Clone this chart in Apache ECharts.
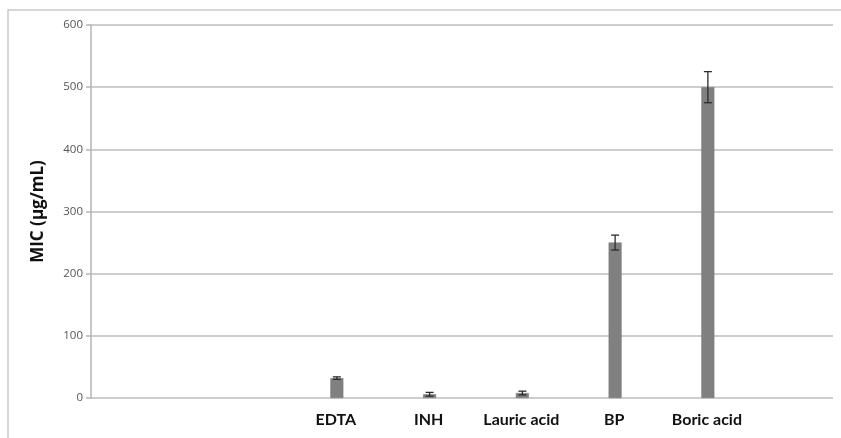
<!DOCTYPE html>
<html>
<head>
<meta charset="utf-8">
<script src="https://cdn.jsdelivr.net/npm/echarts@6/dist/echarts.min.js"></script>
<style>
html,body{margin:0;padding:0;background:#fff;}
#chart{width:841px;height:438px;}
</style>
</head>
<body>
<div id="chart"></div>
<script>
// Data
var categories = ['', '', 'EDTA', 'INH', 'Lauric acid', 'BP', 'Boric acid', ''];
var micValues = [null, null, 32, 6, 8, 250, 500, null];
var micErrors = [null, null, 2, 3, 3, 12, 25, null];
var yTicks = [0, 100, 200, 300, 400, 500, 600];

var BAR_OFFSET = 14;

var chart = echarts.init(document.getElementById('chart'), null, {renderer: 'canvas'});

var errData = categories.map(function (c, i) {
  return micValues[i] == null ? null : [i, micValues[i], micErrors[i]];
}).filter(function (d) { return d; });

var option = {
  animation: false,
  backgroundColor: '#ffffff',
  graphic: [{
    type: 'rect',
    shape: {x: 8, y: 10, width: 900, height: 500},
    style: {fill: 'none', stroke: '#c9c9c9', lineWidth: 1.5},
    silent: true
  }],
  grid: {left: 91, right: 8, top: 25, bottom: 40, containLabel: false},
  xAxis: {
    type: 'category',
    data: categories,
    boundaryGap: true,
    axisLine: {show: false},
    axisTick: {show: false},
    axisLabel: {
      interval: 0,
      margin: 14,
      color: '#111',
      fontFamily: 'Lato',
      fontWeight: 'bold',
      fontSize: 16,
      padding: [0, 0, 0, 26]
    }
  },
  yAxis: {
    type: 'value',
    min: yTicks[0],
    max: yTicks[yTicks.length - 1],
    interval: 100,
    name: 'MIC (µg/mL)',
    nameLocation: 'middle',
    nameGap: 44,
    nameTextStyle: {fontFamily: 'Open Sans', fontWeight: 'bold', fontSize: 17, color: '#111'},
    axisLine: {show: true, lineStyle: {color: '#b5b5b5', width: 1.5}},
    axisTick: {show: true, length: 5, lineStyle: {color: '#b5b5b5', width: 1.5}},
    axisLabel: {color: '#555', fontFamily: 'Open Sans', fontSize: 11.5, margin: 8},
    splitLine: {show: true, lineStyle: {color: '#bdbdbd', width: 1.5}}
  },
  series: [
    {
      type: 'bar',
      name: 'dummy',
      data: categories.map(function () { return null; }),
      barWidth: 13,
      barGap: '115%'
    },
    {
      type: 'bar',
      name: 'MIC',
      data: micValues,
      barWidth: 13,
      barGap: '115%',
      itemStyle: {color: '#808080', borderColor: '#747474', borderWidth: 0.5}
    },
    {
      type: 'custom',
      name: 'err',
      data: errData,
      z: 10,
      renderItem: function (params, api) {
        var cat = api.value(0), v = api.value(1), e = api.value(2);
        var hi = api.coord([cat, v + e]);
        var lo = api.coord([cat, v - e]);
        var x = hi[0] + BAR_OFFSET;
        var cap = 4;
        var st = {stroke: '#2b2b2b', lineWidth: 1.3};
        return {
          type: 'group',
          children: [
            {type: 'line', shape: {x1: x, y1: hi[1], x2: x, y2: lo[1]}, style: st},
            {type: 'line', shape: {x1: x - cap, y1: hi[1], x2: x + cap, y2: hi[1]}, style: st},
            {type: 'line', shape: {x1: x - cap, y1: lo[1], x2: x + cap, y2: lo[1]}, style: st}
          ]
        };
      }
    }
  ]
};
chart.setOption(option);
</script>
</body>
</html>
